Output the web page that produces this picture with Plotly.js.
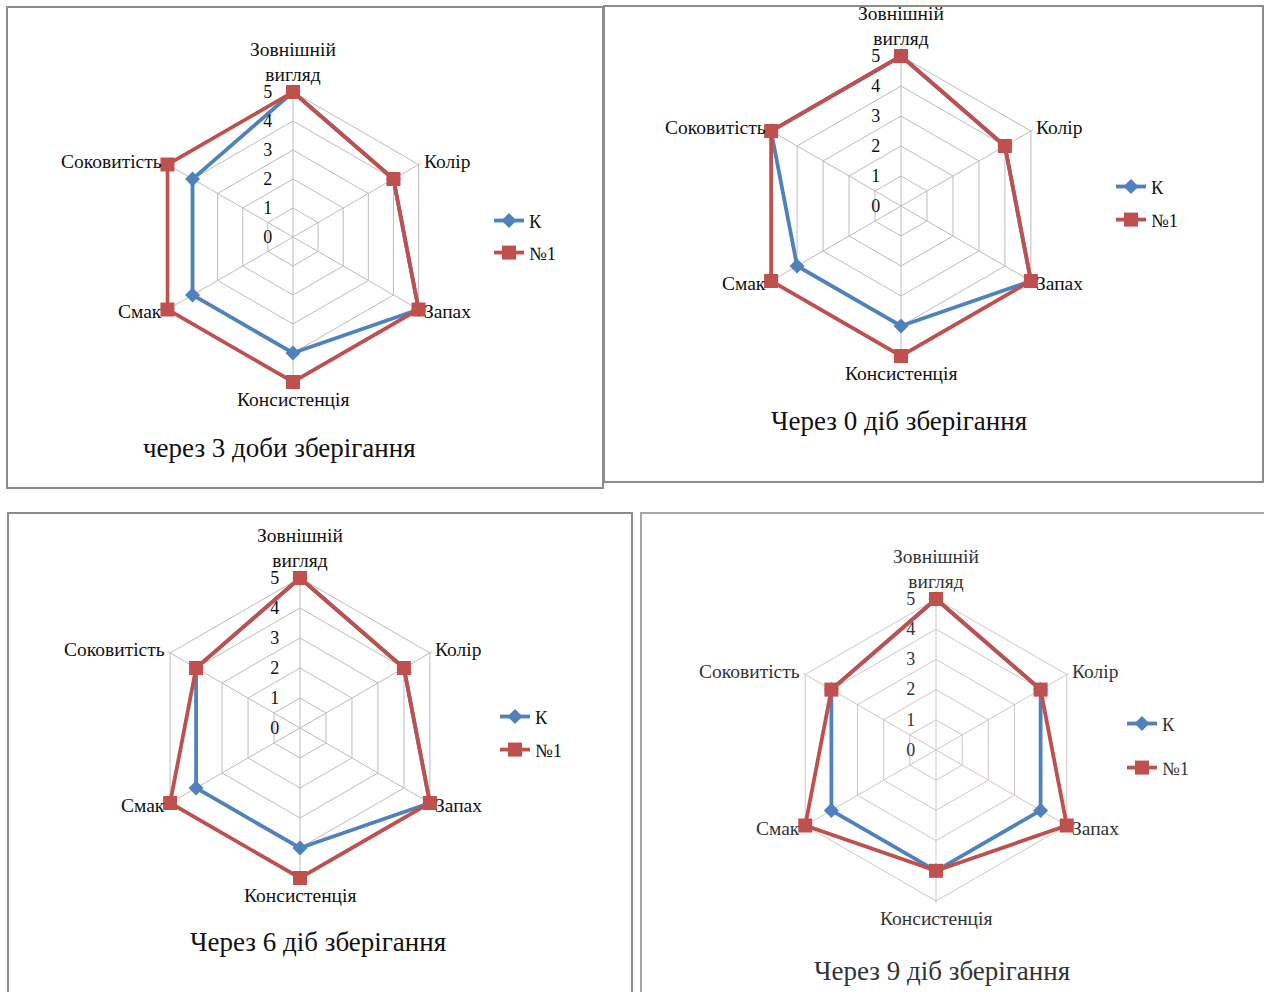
<!DOCTYPE html>
<html>
<head>
<meta charset="utf-8">
<script src="https://cdn.plot.ly/plotly-3.0.1.min.js"></script>
<style>html,body{margin:0;padding:0;background:#fff;}#chart{width:1264px;height:992px;}</style>
</head>
<body>
<div id="chart"></div>
<script>
// ---- data ----
const categories = ['Зовнішній вигляд', 'Колір', 'Запах', 'Консистенція', 'Смак', 'Соковитість'];
const categoryLabels = ['Зовнішній<br>вигляд', 'Колір', 'Запах', 'Консистенція', 'Смак', 'Соковитість'];
const seriesNames = ['К', '№1'];
const k_day3  = [5, 4, 5, 4, 4, 4];
const n1_day3 = [5, 4, 5, 5, 5, 5];
const k_day0  = [5, 4, 5, 4, 4, 5];
const n1_day0 = [5, 4, 5, 5, 5, 5];
const k_day6  = [5, 4, 5, 4, 4, 4];
const n1_day6 = [5, 4, 5, 5, 5, 4];
const k_day9  = [5, 4, 4, 4, 4, 4];
const n1_day9 = [5, 4, 5, 4, 5, 4];
const panelTitles = ['через 3 доби зберігання', 'Через 0 діб зберігання', 'Через 6 діб зберігання', 'Через 9 діб зберігання'];
const radialTicks = [0, 1, 2, 3, 4, 5];

// ---- layout helpers ----
const W = 1264, H = 992;
const FONT = 'Liberation Serif, Times New Roman, serif';
const BLUE = '#4f81bd', RED = '#c0504d';
const RMAX = 5.08; // slight headroom so lines on the outer ring are not clipped

const panels = [
  {k: k_day3, n: n1_day3, cx: 293, cy: 237, R: 145, grid: '#bcbcbc', txt: '#111',
   leg: {x: 489, y: 202}, title: {x: 279, y: 448}, gap: 5},
  {k: k_day0, n: n1_day0, cx: 901, cy: 206, R: 150, grid: '#bcbcbc', txt: '#111',
   leg: {x: 1111, y: 168}, title: {x: 899, y: 421}, gap: 6},
  {k: k_day6, n: n1_day6, cx: 300, cy: 728, R: 150, grid: '#bcbcbc', txt: '#111',
   leg: {x: 495, y: 698}, title: {x: 318, y: 942}, gap: 6},
  {k: k_day9, n: n1_day9, cx: 936, cy: 750, R: 151, grid: '#d2c6c6', txt: '#333',
   leg: {x: 1122, y: 705}, title: {x: 942, y: 971}, gap: 17}
];

function closeLoop(arr) { return arr.concat([arr[0]]); }

const data = [];
const layout = {
  width: W, height: H,
  margin: {l: 0, r: 0, t: 0, b: 0},
  paper_bgcolor: '#fff',
  showlegend: true,
  annotations: [],
  shapes: []
};

panels.forEach((p, i) => {
  const sub = i === 0 ? 'polar' : 'polar' + (i + 1);
  const legName = i === 0 ? 'legend' : 'legend' + (i + 1);
  const theta = closeLoop(categories);
  data.push({
    type: 'scatterpolar', mode: 'lines+markers', name: seriesNames[0],
    r: closeLoop(p.k), theta: theta, subplot: sub, legend: legName, legendgroup: 'k' + i,
    line: {color: BLUE, width: 3.8},
    marker: {symbol: 'diamond', size: 11.5, color: BLUE},
    cliponaxis: false
  });
  data.push({
    type: 'scatterpolar', mode: 'lines+markers', name: seriesNames[1],
    r: closeLoop(p.n), theta: theta, subplot: sub, legend: legName, legendgroup: 'n' + i,
    line: {color: RED, width: 3.8},
    marker: {symbol: 'square', size: 14, color: RED},
    cliponaxis: false
  });
  const Rd = p.R * RMAX / 5;
  layout[sub] = {
    domain: {x: [(p.cx - Rd) / W, (p.cx + Rd) / W], y: [1 - (p.cy + Rd) / H, 1 - (p.cy - Rd) / H]},
    gridshape: 'linear',
    bgcolor: 'rgba(0,0,0,0)',
    radialaxis: {
      range: [0, RMAX], tickvals: radialTicks, ticktext: radialTicks.map(String),
      angle: 90, side: 'counterclockwise', tickangle: 90,
      showline: false, gridcolor: p.grid, gridwidth: 1,
      ticks: 'outside', ticklen: 14, tickcolor: 'rgba(0,0,0,0)',
      tickfont: {family: FONT, size: 18, color: p.txt}
    },
    angularaxis: {
      type: 'category', categoryarray: categories, direction: 'clockwise', rotation: 90,
      gridcolor: p.grid, showline: false, ticks: '', showticklabels: false
    }
  };
  // category labels placed around the outer ring (Excel-style placement)
  categoryLabels.forEach((lab, j) => {
    const ang = (90 - j * 360 / categoryLabels.length) * Math.PI / 180;
    const vx = p.cx + p.R * Math.cos(ang), vy = p.cy - p.R * Math.sin(ang);
    const c = Math.cos(ang), s = Math.sin(ang);
    let x = vx, y = vy, xa = 'center';
    if (Math.abs(c) < 0.01) {
      y = s > 0 ? vy - 30 : vy + 17.5;
    } else {
      xa = c > 0 ? 'left' : 'right';
      x = vx + (c > 0 ? 5 : -5);
      y = s > 0 ? vy - 3.5 : vy + 2.5;
    }
    layout.annotations.push({
      xref: 'paper', yref: 'paper', x: x / W, y: 1 - y / H,
      xanchor: xa, yanchor: 'middle', showarrow: false, borderpad: 0, borderwidth: 0,
      text: lab, font: {family: FONT, size: 19.5, color: p.txt}
    });
  });
  layout[legName] = {
    x: p.leg.x / W, y: 1 - p.leg.y / H, xanchor: 'left', yanchor: 'top',
    bgcolor: 'rgba(0,0,0,0)', font: {family: FONT, size: 18.5, color: p.txt},
    traceorder: 'grouped', tracegroupgap: p.gap, itemwidth: 30
  };
  layout.annotations.push({
    xref: 'paper', yref: 'paper', x: p.title.x / W, y: 1 - p.title.y / H,
    xanchor: 'center', yanchor: 'middle', showarrow: false,
    text: panelTitles[i], font: {family: FONT, size: 27, color: p.txt}
  });
});

// panel frames
const frames = [
  [7, 7, 603, 488, '#8c8c8c'],
  [604, 6, 1263, 482, '#8c8c8c'],
  [8, 513, 632, 1000, '#8c8c8c'],
  [641, 513, 1270, 1000, '#a6a6a6']
];
frames.forEach(f => {
  layout.shapes.push({
    type: 'rect', xref: 'paper', yref: 'paper',
    x0: f[0] / W, x1: f[2] / W, y0: 1 - f[3] / H, y1: 1 - f[1] / H,
    line: {color: f[4], width: 2}, fillcolor: 'rgba(0,0,0,0)', layer: 'below'
  });
});

Plotly.newPlot('chart', data, layout, {displayModeBar: false, staticPlot: true});
</script>
</body>
</html>
